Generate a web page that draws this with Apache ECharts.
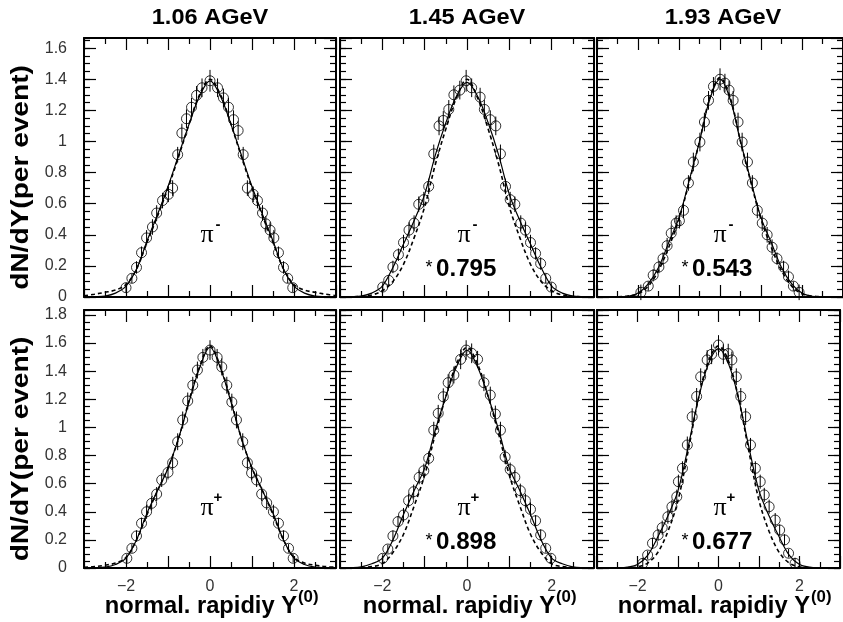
<!DOCTYPE html>
<html>
<head>
<meta charset="utf-8">
<script src="https://cdn.jsdelivr.net/npm/echarts@6/dist/echarts.min.js"></script>
<style>
  html, body { margin: 0; padding: 0; background: #fff; }
  #chart { width: 843px; height: 622px; }
</style>
</head>
<body>
<div id="chart"></div>
<script>
// Beam energies (column headers)
const energies = ['1.06 AGeV', '1.45 AGeV', '1.93 AGeV'];
// Scale factors applied at the higher energies
const piMinusFactors = ['', '0.795', '0.543'];
const piPlusFactors = ['', '0.898', '0.677'];

// Abscissa of the two model curves
const curveX = [-3, -2.75, -2.5, -2.25, -2, -1.75, -1.5, -1.25, -1, -0.75, -0.5, -0.25, 0,
                0.25, 0.5, 0.75, 1, 1.25, 1.5, 1.75, 2, 2.25, 2.5, 2.75, 3];

// ---- pi- , 1.06 AGeV ----
const piMinus106X = [-2.0, -1.86, -1.75, -1.63, -1.51, -1.37, -1.27, -1.13, -0.99, -0.89, -0.77, -0.67, -0.56, -0.44, -0.32, -0.19, 0,
  0.18, 0.32, 0.44, 0.56, 0.67, 0.79, 0.89, 1.03, 1.13, 1.25, 1.33, 1.43, 1.52, 1.63, 1.75, 1.85, 1.97];
const piMinus106Y = [0.06, 0.12, 0.19, 0.285, 0.38, 0.45, 0.54, 0.62, 0.66, 0.70, 0.915, 1.054, 1.146, 1.22, 1.296, 1.345, 1.39,
  1.345, 1.28, 1.22, 1.14, 1.07, 0.915, 0.70, 0.66, 0.62, 0.54, 0.47, 0.43, 0.38, 0.285, 0.19, 0.12, 0.06];
const piMinus106Err = [0.03, 0.03, 0.04, 0.04, 0.05, 0.05, 0.05, 0.05, 0.05, 0.05, 0.05, 0.06, 0.06, 0.06, 0.06, 0.06, 0.07,
  0.06, 0.06, 0.06, 0.06, 0.06, 0.05, 0.05, 0.05, 0.05, 0.05, 0.05, 0.05, 0.05, 0.04, 0.04, 0.03, 0.03];
const piMinus106Fit = [0, 0.002, 0.006, 0.025, 0.07, 0.18, 0.36, 0.53, 0.71, 0.91, 1.11, 1.29, 1.39,
  1.29, 1.11, 0.91, 0.71, 0.53, 0.36, 0.18, 0.07, 0.025, 0.006, 0.002, 0];
const piMinus106Dash = [0.008, 0.018, 0.03, 0.045, 0.08, 0.18, 0.35, 0.52, 0.70, 0.90, 1.11, 1.30, 1.40,
  1.30, 1.11, 0.90, 0.70, 0.52, 0.35, 0.18, 0.08, 0.045, 0.03, 0.018, 0.008];

// ---- pi- , 1.45 AGeV ----
const piMinus145X = [-1.99, -1.85, -1.75, -1.62, -1.5, -1.37, -1.25, -1.14, -1.02, -0.905, -0.785, -0.66, -0.56, -0.43, -0.31, -0.17, -0.02,
  0.11, 0.31, 0.41, 0.55, 0.68, 0.79, 0.91, 1.02, 1.13, 1.27, 1.38, 1.5, 1.62, 1.74, 1.86, 1.99];
const piMinus145Y = [0.064, 0.107, 0.193, 0.272, 0.35, 0.43, 0.475, 0.596, 0.626, 0.711, 0.92, 1.10, 1.135, 1.206, 1.30, 1.33, 1.39,
  1.345, 1.285, 1.206, 1.14, 1.10, 0.92, 0.711, 0.626, 0.596, 0.475, 0.43, 0.35, 0.28, 0.215, 0.12, 0.064];
const piMinus145Err = [0.03, 0.03, 0.04, 0.04, 0.05, 0.05, 0.05, 0.05, 0.05, 0.05, 0.06, 0.06, 0.06, 0.06, 0.06, 0.06, 0.07,
  0.06, 0.06, 0.06, 0.06, 0.06, 0.06, 0.05, 0.05, 0.05, 0.05, 0.05, 0.05, 0.04, 0.04, 0.03, 0.03];
const piMinus145Fit = [0, 0.002, 0.006, 0.025, 0.07, 0.19, 0.34, 0.49, 0.66, 0.91, 1.12, 1.29, 1.38,
  1.29, 1.12, 0.91, 0.66, 0.49, 0.34, 0.19, 0.07, 0.025, 0.006, 0.002, 0];
const piMinus145Dash = [0, 0.001, 0.004, 0.013, 0.04, 0.10, 0.21, 0.38, 0.58, 0.85, 1.08, 1.28, 1.40,
  1.28, 1.08, 0.85, 0.58, 0.38, 0.21, 0.10, 0.04, 0.013, 0.004, 0.001, 0];

// ---- pi- , 1.93 AGeV ----
const piMinus193X = [-1.93, -1.75, -1.63, -1.49, -1.39, -1.29, -1.19, -1.07, -0.99, -0.89, -0.77, -0.65, -0.49, -0.38, -0.28, -0.16, 0,
  0.12, 0.22, 0.32, 0.44, 0.54, 0.67, 0.79, 0.91, 1.03, 1.15, 1.27, 1.39, 1.55, 1.67, 1.79, 1.93];
const piMinus193Y = [0.03, 0.07, 0.14, 0.193, 0.247, 0.33, 0.41, 0.475, 0.49, 0.557, 0.733, 0.868, 0.996, 1.125, 1.264, 1.354, 1.40,
  1.375, 1.33, 1.264, 1.125, 0.996, 0.868, 0.733, 0.557, 0.475, 0.40, 0.32, 0.247, 0.193, 0.13, 0.07, 0.03];
const piMinus193Err = [0.05, 0.03, 0.04, 0.04, 0.04, 0.05, 0.05, 0.05, 0.05, 0.05, 0.05, 0.06, 0.06, 0.06, 0.06, 0.06, 0.07,
  0.06, 0.06, 0.06, 0.06, 0.06, 0.06, 0.05, 0.05, 0.05, 0.05, 0.05, 0.04, 0.04, 0.04, 0.03, 0.05];
const piMinus193Fit = [0, 0, 0, 0.004, 0.025, 0.085, 0.19, 0.35, 0.51, 0.75, 1.00, 1.27, 1.40,
  1.27, 1.00, 0.75, 0.51, 0.35, 0.19, 0.085, 0.025, 0.004, 0, 0, 0];
const piMinus193Dash = [0, 0, 0.001, 0.006, 0.02, 0.07, 0.17, 0.32, 0.50, 0.74, 1.00, 1.28, 1.41,
  1.28, 1.00, 0.74, 0.50, 0.32, 0.17, 0.07, 0.02, 0.006, 0.001, 0, 0];

// ---- pi+ , 1.06 AGeV ----
const piPlus106X = [-1.98, -1.86, -1.75, -1.63, -1.51, -1.39, -1.27, -1.15, -1.0, -0.89, -0.77, -0.65, -0.53, -0.41, -0.30, -0.17, 0,
  0.17, 0.28, 0.40, 0.52, 0.63, 0.78, 0.89, 0.99, 1.11, 1.23, 1.35, 1.51, 1.63, 1.75, 1.87, 1.98];
const piPlus106Y = [0.069, 0.14, 0.228, 0.318, 0.40, 0.46, 0.526, 0.626, 0.68, 0.749, 0.898, 1.053, 1.188, 1.30, 1.408, 1.498, 1.55,
  1.498, 1.43, 1.30, 1.18, 1.053, 0.898, 0.749, 0.676, 0.626, 0.526, 0.463, 0.40, 0.318, 0.228, 0.14, 0.069];
const piPlus106Err = [0.03, 0.03, 0.04, 0.04, 0.05, 0.05, 0.05, 0.05, 0.05, 0.05, 0.06, 0.06, 0.06, 0.06, 0.06, 0.06, 0.07,
  0.06, 0.06, 0.06, 0.06, 0.06, 0.06, 0.05, 0.05, 0.05, 0.05, 0.05, 0.05, 0.04, 0.04, 0.03, 0.03];
const piPlus106Fit = [0, 0.002, 0.006, 0.025, 0.07, 0.2, 0.39, 0.55, 0.71, 0.92, 1.18, 1.42, 1.57,
  1.42, 1.18, 0.92, 0.71, 0.55, 0.39, 0.2, 0.07, 0.025, 0.006, 0.002, 0];
const piPlus106Dash = [0.005, 0.01, 0.02, 0.035, 0.075, 0.2, 0.38, 0.55, 0.71, 0.92, 1.19, 1.43, 1.58,
  1.43, 1.19, 0.92, 0.71, 0.55, 0.38, 0.2, 0.075, 0.035, 0.02, 0.01, 0.005];

// ---- pi+ , 1.45 AGeV ----
const piPlus145X = [-1.99, -1.87, -1.75, -1.63, -1.5, -1.38, -1.26, -1.13, -1.02, -0.905, -0.785, -0.68, -0.56, -0.445, -0.31, -0.15, -0.02,
  0.11, 0.25, 0.40, 0.55, 0.67, 0.79, 0.90, 1.02, 1.13, 1.26, 1.38, 1.5, 1.62, 1.74, 1.86, 1.98];
const piPlus145Y = [0.069, 0.135, 0.228, 0.33, 0.377, 0.479, 0.543, 0.645, 0.692, 0.78, 0.98, 1.10, 1.218, 1.318, 1.373, 1.484, 1.55,
  1.527, 1.484, 1.318, 1.23, 1.095, 0.98, 0.79, 0.70, 0.645, 0.55, 0.479, 0.417, 0.336, 0.235, 0.14, 0.069];
const piPlus145Err = [0.03, 0.03, 0.04, 0.04, 0.05, 0.05, 0.05, 0.05, 0.05, 0.05, 0.06, 0.06, 0.06, 0.06, 0.06, 0.07, 0.07,
  0.07, 0.06, 0.06, 0.06, 0.06, 0.06, 0.05, 0.05, 0.05, 0.05, 0.05, 0.05, 0.04, 0.04, 0.03, 0.03];
const piPlus145Fit = [0, 0.002, 0.008, 0.03, 0.07, 0.2, 0.38, 0.55, 0.71, 0.98, 1.22, 1.43, 1.55,
  1.43, 1.22, 0.98, 0.71, 0.55, 0.38, 0.2, 0.07, 0.03, 0.008, 0.002, 0];
const piPlus145Dash = [0, 0.001, 0.003, 0.01, 0.03, 0.11, 0.24, 0.44, 0.66, 0.95, 1.22, 1.45, 1.57,
  1.45, 1.22, 0.95, 0.66, 0.44, 0.24, 0.11, 0.03, 0.01, 0.003, 0.001, 0];

// ---- pi+ , 1.93 AGeV ----
const piPlus193X = [-1.87, -1.75, -1.63, -1.49, -1.39, -1.25, -1.15, -1.03, -0.99, -0.89, -0.77, -0.65, -0.54, -0.44, -0.28, -0.17, 0,
  0.12, 0.24, 0.33, 0.44, 0.55, 0.67, 0.79, 0.91, 1.03, 1.13, 1.25, 1.40, 1.51, 1.63, 1.73, 1.89];
const piPlus193Y = [0.033, 0.092, 0.176, 0.235, 0.287, 0.365, 0.436, 0.507, 0.614, 0.709, 0.875, 1.076, 1.22, 1.36, 1.48, 1.52, 1.586,
  1.52, 1.525, 1.48, 1.36, 1.22, 1.076, 0.875, 0.709, 0.614, 0.52, 0.436, 0.341, 0.27, 0.2, 0.105, 0.033];
const piPlus193Err = [0.04, 0.03, 0.04, 0.04, 0.05, 0.05, 0.05, 0.05, 0.05, 0.05, 0.06, 0.06, 0.06, 0.06, 0.07, 0.07, 0.07,
  0.07, 0.07, 0.06, 0.06, 0.06, 0.06, 0.05, 0.05, 0.05, 0.05, 0.05, 0.05, 0.04, 0.04, 0.03, 0.04];
const piPlus193Fit = [0, 0, 0.001, 0.006, 0.025, 0.09, 0.22, 0.37, 0.55, 0.86, 1.20, 1.45, 1.56,
  1.45, 1.20, 0.86, 0.55, 0.37, 0.22, 0.09, 0.025, 0.006, 0.001, 0, 0];
const piPlus193Dash = [0, 0, 0, 0.002, 0.008, 0.035, 0.11, 0.26, 0.48, 0.83, 1.20, 1.47, 1.58,
  1.47, 1.20, 0.83, 0.48, 0.26, 0.11, 0.035, 0.008, 0.002, 0, 0, 0];

// Vertical axis upper limits for the two rows
const rowYMax = [1.665, 1.835];

// ---- layout ----
const colLeft = [84, 340, 597];
const colWidth = [252, 254, 252];
const rowTop = [38, 310];
const rowHeight = [259, 258];
const FONT = '"Liberation Sans", Arial, Helvetica, sans-serif';

const panels = [
  { row: 0, col: 0, x: piMinus106X, y: piMinus106Y, err: piMinus106Err, fit: piMinus106Fit, dash: piMinus106Dash },
  { row: 0, col: 1, x: piMinus145X, y: piMinus145Y, err: piMinus145Err, fit: piMinus145Fit, dash: piMinus145Dash },
  { row: 0, col: 2, x: piMinus193X, y: piMinus193Y, err: piMinus193Err, fit: piMinus193Fit, dash: piMinus193Dash },
  { row: 1, col: 0, x: piPlus106X, y: piPlus106Y, err: piPlus106Err, fit: piPlus106Fit, dash: piPlus106Dash },
  { row: 1, col: 1, x: piPlus145X, y: piPlus145Y, err: piPlus145Err, fit: piPlus145Fit, dash: piPlus145Dash },
  { row: 1, col: 2, x: piPlus193X, y: piPlus193Y, err: piPlus193Err, fit: piPlus193Fit, dash: piPlus193Dash }
];

const grid = [], xAxis = [], yAxis = [], series = [];
const frame = { show: true, onZero: false, lineStyle: { color: '#000', width: 2 } };

function xFmt(v) {
  if (Math.abs(v % 2) > 1e-9) return '';
  return v < 0 ? '\u2212' + (-v) : String(v);
}

panels.forEach((p, i) => {
  grid.push({ left: colLeft[p.col], top: rowTop[p.row], width: colWidth[p.col], height: rowHeight[p.row] });
  ['bottom', 'top'].forEach(pos => {
    xAxis.push({
      type: 'value', gridIndex: i, position: pos, min: -3, max: 3, interval: 1,
      axisLine: frame,
      axisTick: { inside: true, length: 12, lineStyle: { color: '#000', width: 1.2 } },
      minorTick: { show: true, splitNumber: 2, length: 6, lineStyle: { color: '#000', width: 1.2 } },
      splitLine: { show: false },
      axisLabel: {
        show: pos === 'bottom' && p.row === 1, formatter: xFmt, margin: 11,
        fontFamily: FONT, fontSize: 16, color: '#333'
      }
    });
  });
  ['left', 'right'].forEach(pos => {
    // long ticks every 0.2
    yAxis.push({
      type: 'value', gridIndex: i, position: pos, min: 0, max: rowYMax[p.row], interval: 0.2,
      axisLine: frame,
      axisTick: { inside: true, length: 12, lineStyle: { color: '#000', width: 1.2 } },
      splitLine: { show: false },
      axisLabel: {
        show: pos === 'left' && p.col === 0, showMaxLabel: false, margin: 17,
        fontFamily: FONT, fontSize: 16, color: '#333'
      }
    });
    // short ticks every 0.05
    yAxis.push({
      type: 'value', gridIndex: i, position: pos, min: 0, max: rowYMax[p.row], interval: 0.05,
      axisLine: { show: false, onZero: false },
      axisTick: { inside: true, length: 6, lineStyle: { color: '#000', width: 1.2 } },
      splitLine: { show: false },
      axisLabel: { show: false }
    });
  });

  const xi = 2 * i, yi = 4 * i;
  series.push({
    type: 'line', xAxisIndex: xi, yAxisIndex: yi, showSymbol: false, smooth: 0.35,
    data: curveX.map((x, k) => [x, p.fit[k]]),
    lineStyle: { color: '#000', width: 1.2 }, z: 2
  });
  series.push({
    type: 'line', xAxisIndex: xi, yAxisIndex: yi, showSymbol: false, smooth: 0.35,
    data: curveX.map((x, k) => [x, p.dash[k]]),
    lineStyle: { color: '#000', width: 1.6, type: [4, 3] }, z: 2
  });
  series.push({
    type: 'custom', xAxisIndex: xi, yAxisIndex: yi, z: 3,
    data: p.x.map((x, k) => [x, p.y[k], p.err[k]]),
    renderItem: (params, api) => {
      const x = api.value(0), y = api.value(1), e = api.value(2);
      const a = api.coord([x, y - e]), b = api.coord([x, y + e]);
      return { type: 'line', shape: { x1: a[0], y1: a[1], x2: b[0], y2: b[1] },
               style: { stroke: '#000', lineWidth: 1 } };
    }
  });
  series.push({
    type: 'scatter', xAxisIndex: xi, yAxisIndex: yi, symbol: 'circle', symbolSize: 10, z: 4,
    data: p.x.map((x, k) => [x, p.y[k]]),
    itemStyle: { color: 'rgba(0,0,0,0)', borderColor: '#000', borderWidth: 1 }
  });
});

// ---- texts ----
const graphic = [];
function txt(o) {
  const s = Object.assign({ fill: '#000' }, o.style);
  if (s.textAlign) s.align = s.textAlign;
  if (s.textVerticalAlign) s.verticalAlign = s.textVerticalAlign;
  o.style = s;
  o.type = 'text';
  graphic.push(o);
}

for (let c = 0; c < 3; c++) {
  const cx = colLeft[c] + colWidth[c] / 2;
  const right = colLeft[c] + colWidth[c];
  // column header
  txt({ x: cx, y: 18, scaleX: 1.07,
        style: { text: energies[c], font: 'bold 22px ' + FONT, textAlign: 'center', textVerticalAlign: 'middle' } });
  // x-axis title with superscript
  txt({ x: right - 39, y: 607, scaleX: 1.03,
        style: { text: 'normal. rapidiy Y', font: 'bold 23px ' + FONT, textAlign: 'right', textVerticalAlign: 'middle' } });
  txt({ x: right - 38, y: 598, scaleX: 1.05,
        style: { text: '(0)', font: 'bold 16px ' + FONT, textAlign: 'left', textVerticalAlign: 'middle' } });

  // particle labels
  [['-', 237, piMinusFactors[c], 270], ['+', 510, piPlusFactors[c], 543]].forEach(([sign, py, factor, fy]) => {
    txt({ x: cx - 3, y: py - 2,
          style: { text: '\u03c0', font: '26px "Liberation Serif", "Times New Roman", serif', textAlign: 'center', textVerticalAlign: 'middle' } });
    txt({ x: cx + 8, y: py - 12,
          style: { text: sign, font: 'bold 15px ' + FONT, textAlign: 'center', textVerticalAlign: 'middle' } });
    if (factor) {
      txt({ x: cx - 38, y: fy - 2,
            style: { text: '*', font: '18px ' + FONT, textAlign: 'center', textVerticalAlign: 'middle' } });
      txt({ x: cx - 31, y: fy, scaleX: 1.05,
            style: { text: factor, font: 'bold 23px ' + FONT, textAlign: 'left', textVerticalAlign: 'middle' } });
    }
  });
}
// y-axis titles
for (let r = 0; r < 2; r++) {
  txt({ x: 21, y: rowTop[r] + rowHeight[r] / 2 + 10, rotation: Math.PI / 2, scaleX: 1.17,
        style: { text: 'dN/dY(per event)', font: 'bold 24px ' + FONT, textAlign: 'center', textVerticalAlign: 'middle' } });
}

const chart = echarts.init(document.getElementById('chart'));
chart.setOption({
  animation: false,
  backgroundColor: '#fff',
  grid, xAxis, yAxis, series, graphic
});
</script>
</body>
</html>
